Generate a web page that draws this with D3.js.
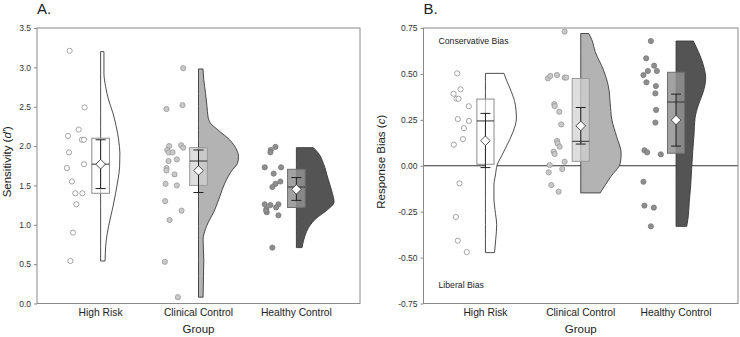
<!DOCTYPE html>
<html>
<head>
<meta charset="utf-8">
<script src="https://cdn.jsdelivr.net/npm/d3@7"></script>
<style>
  body { margin: 0; background: #fff; }
  svg { display: block; font-family: "Liberation Sans", Arial, sans-serif; }
</style>
</head>
<body>
<svg id="chart" width="740" height="337"></svg>
<script>
// ---- data ----
const groups = ["High Risk", "Clinical Control", "Healthy Control"];
const ticksA = [0, 0.5, 1, 1.5, 2, 2.5, 3, 3.5];
const ticksB = [-0.75, -0.5, -0.25, 0, 0.25, 0.5, 0.75];

// A. sensitivity (d') per participant, with horizontal jitter (-1..1)
const dA_hr = [3.21, 2.49, 2.21, 2.13, 2.08, 2.08, 1.92, 1.77, 1.72, 1.55, 1.40, 1.40, 1.26, 0.90, 0.54];
const jA_hr = [-0.70, 0.91, 0.27, -0.88, 0.62, 0.84, -0.77, 0.84, -0.99, -0.45, -0.09, 0.67, 0.02, -0.34, -0.62];
const dA_cc = [2.99, 2.47, 2.52, 2.01, 1.98, 2.00, 1.95, 1.92, 1.92, 1.83, 1.81, 1.72, 1.69, 1.64, 1.52, 1.50, 1.30, 1.18, 1.06, 0.53, 0.08];
const jA_cc = [0.99, -0.81, 0.91, 0.77, 0.99, -0.52, -0.73, -0.56, -0.16, 0.30, -0.59, -0.81, -0.81, 0.05, -0.91, 0.30, -0.95, 0.81, -0.48, -0.99, 0.41];
const dA_hc = [1.99, 1.95, 1.92, 1.73, 1.73, 1.65, 1.55, 1.52, 1.48, 1.26, 1.25, 1.26, 1.22, 1.20, 1.16, 1.18, 1.12, 0.71];
const jA_hc = [0.38, -0.13, -0.16, -0.77, 0.99, 0.19, 0.91, 0.38, 0.05, -0.77, -0.16, 0.70, 0.45, -0.59, -0.56, -0.62, 0.70, 0.05];

// B. response bias (c)
const cB_hr = [0.503, 0.416, 0.392, 0.365, 0.365, 0.324, 0.254, 0.244, 0.205, 0.145, 0.115, -0.096, -0.279, -0.408, -0.47];
const jB_hr = [-0.48, -0.12, -0.89, -0.56, -0.34, 0.79, -0.42, 0.81, 0.26, 0.15, -0.86, -0.23, -0.64, -0.42, 0.57];
const cB_cc = [0.73, 0.476, 0.489, 0.494, 0.48, 0.48, 0.336, 0.325, 0.294, 0.225, 0.135, 0.122, 0.104, 0.077, 0.064, 0.022, 0.004, -0.018, -0.036, -0.105, -0.141];
const jB_cc = [0.85, -1.0, -0.73, 0.01, 0.85, 1.03, -0.29, -0.25, 0.26, 0.48, 0.01, 0.08, 0.30, -0.36, -0.25, 0.85, -0.80, 0.59, -0.91, -0.62, 0.19];
const cB_hc = [0.679, 0.585, 0.545, 0.516, 0.516, 0.494, 0.454, 0.434, 0.394, 0.304, 0.235, 0.084, 0.073, 0.062, -0.087, -0.217, -0.228, -0.33];
const jB_hc = [-0.15, -0.67, 0.21, -0.48, 0.51, -0.97, -0.64, 0.40, 0.35, 0.43, 0.35, -0.86, -0.56, 0.95, -0.97, -0.86, 0.18, -0.15];

// box + mean/CI summaries  [High Risk, Clinical, Healthy]
const q1A = [1.40, 1.50, 1.22], medA = [1.77, 1.81, 1.48], q3A = [2.10, 1.98, 1.705];
const meanA = [1.77, 1.69, 1.45], ciLoA = [1.46, 1.41, 1.31], ciHiA = [2.08, 1.95, 1.60];
const q1B = [0.008, 0.024, 0.068], medB = [0.244, 0.133, 0.347], q3B = [0.363, 0.475, 0.509];
const meanB = [0.136, 0.217, 0.249], ciLoB = [-0.01, 0.118, 0.107], ciHiB = [0.285, 0.317, 0.39];

// half-violin density profiles: [value, density]
const vA_hr = [[3.20,.034],[2.925,.034],[2.755,.051],[2.586,.082],[2.417,.126],[2.247,.160],[2.078,.184],[1.908,.197],[1.738,.194],[1.569,.177],[1.40,.153],[1.23,.126],[1.06,.095],[0.892,.068],[0.722,.051],[0.54,.046]];
const vA_cc = [[2.98,.046],[2.84,.054],[2.67,.072],[2.50,.087],[2.37,.098],[2.29,.123],[2.20,.204],[2.08,.317],[1.95,.391],[1.865,.409],[1.78,.398],[1.70,.347],[1.53,.269],[1.36,.218],[1.19,.166],[0.98,.082],[0.81,.047],[0.55,.054],[0.34,.051],[0.08,.047]];
const vA_hc = [[1.98,.174],[1.91,.225],[1.78,.276],[1.57,.327],[1.40,.368],[1.29,.385],[1.19,.317],[1.08,.201],[0.98,.133],[0.85,.085],[0.71,.058]];
const vB_hr = [[0.503,.194],[0.458,.227],[0.403,.272],[0.331,.314],[0.258,.325],[0.185,.290],[0.113,.227],[0.059,.175],[0.004,.123],[-0.05,.105],[-0.105,.089],[-0.177,.089],[-0.26,.105],[-0.32,.118],[-0.40,.108],[-0.473,.095]];
const vB_cc = [[0.72,.084],[0.685,.117],[0.621,.152],[0.521,.239],[0.43,.291],[0.34,.309],[0.249,.327],[0.158,.377],[0.068,.424],[0.013,.414],[-0.06,.314],[-0.148,.204]];
const vB_hc = [[0.679,.181],[0.621,.234],[0.549,.286],[0.476,.311],[0.403,.286],[0.331,.234],[0.258,.199],[0.167,.188],[0.077,.175],[-0.014,.164],[-0.105,.154],[-0.196,.139],[-0.286,.126],[-0.33,.112]];

// styling per group
const violinFill = ["#ffffff", "#b3b3b3", "#545454"];
const boxFill = ["#ffffff", "#d1d1d1", "#929292"];
const boxOpacity = [0.6, 0.72, 0.85];
const boxStroke = ["#8c8c8c", "#9a9a9a", "#6e6e6e"];
const ptFill = ["#ffffff", "#c9c9c9", "#8e8e8e"];
const ptStroke = ["#8f8f8f", "#999999", "#787878"];

const svg = d3.select("#chart");

function drawPanel(p) {
    let g = svg.append("g");

    let x = d3.scalePoint().domain(groups).range([p.left, p.right]).padding(0.65);
    let step = x.step();
    let y = d3.scaleLinear().domain(p.domain).range([p.bottom, p.top]);

    // y axis
    let yAxis = d3.axisLeft(y).tickValues(p.ticks).tickSize(3).tickPadding(3).tickFormat(p.fmt);
    let ax = g.append("g").attr("transform", `translate(${p.left},0)`).call(yAxis);
    ax.select(".domain").remove();
    ax.selectAll(".tick line").attr("stroke", "#8a8a8a");
    ax.selectAll(".tick text").attr("fill", "#333").style("font-size", "8.5px")
        .style("font-family", "'Liberation Sans', Arial, sans-serif");

    // reference line at zero (under the clouds)
    if (p.zeroLine) {
        g.append("line")
            .attr("x1", p.left).attr("x2", p.right)
            .attr("y1", y(0)).attr("y2", y(0))
            .attr("stroke", "#333").attr("stroke-width", 1);
    }

    groups.forEach((grp, i) => {
        let cx = x(grp);

        // half violin to the right of centre
        let area = d3.area()
            .y(d => y(d[0]))
            .x0(cx)
            .x1(d => cx + d[1] * step)
            .curve(d3.curveMonotoneY);
        g.append("path")
            .datum(p.violins[i])
            .attr("d", area)
            .attr("fill", violinFill[i])
            .attr("stroke", "#3a3a3a")
            .attr("stroke-width", 0.9);

        // raw points (rain)
        let pts = p.values[i].map((v, k) => ({ v: v, j: p.jitter[i][k] }));
        g.selectAll(null)
            .data(pts)
            .enter()
            .append("circle")
            .attr("cx", d => cx - 0.25 * step + d.j * 0.095 * step)
            .attr("cy", d => y(d.v))
            .attr("r", 2.6)
            .attr("fill", ptFill[i])
            .attr("stroke", ptStroke[i])
            .attr("stroke-width", 0.8);

        // box
        let bw = 0.09 * step;
        g.append("rect")
            .attr("x", cx - bw).attr("width", bw * 2)
            .attr("y", y(p.q3[i])).attr("height", y(p.q1[i]) - y(p.q3[i]))
            .attr("fill", boxFill[i]).attr("fill-opacity", boxOpacity[i])
            .attr("stroke", boxStroke[i]).attr("stroke-width", 1);
        g.append("line")
            .attr("x1", cx - bw).attr("x2", cx + bw)
            .attr("y1", y(p.med[i])).attr("y2", y(p.med[i]))
            .attr("stroke", "#333").attr("stroke-width", 1);

        // mean with CI
        let cw = 0.052 * step;
        g.append("line")
            .attr("x1", cx).attr("x2", cx)
            .attr("y1", y(p.ciLo[i])).attr("y2", y(p.ciHi[i]))
            .attr("stroke", "#222").attr("stroke-width", 1);
        [p.ciLo[i], p.ciHi[i]].forEach(v => {
            g.append("line")
                .attr("x1", cx - cw).attr("x2", cx + cw)
                .attr("y1", y(v)).attr("y2", y(v))
                .attr("stroke", "#222").attr("stroke-width", 1);
        });
        g.append("path")
            .attr("d", d3.symbol(d3.symbolSquare, 46)())
            .attr("transform", `translate(${cx},${y(p.mean[i])}) rotate(45)`)
            .attr("fill", "#fff").attr("stroke", "#333").attr("stroke-width", 0.8);

        // category label
        g.append("text")
            .attr("x", cx).attr("y", 316)
            .attr("text-anchor", "middle")
            .style("font-size", "10.3px").attr("fill", "#222")
            .text(grp);
    });

    // frame
    g.append("rect")
        .attr("x", p.left).attr("y", p.top)
        .attr("width", p.right - p.left).attr("height", p.bottom - p.top)
        .attr("fill", "none").attr("stroke", "#8a8a8a").attr("stroke-width", 1);

    // titles
    g.append("text")
        .attr("x", (p.left + p.right) / 2).attr("y", 333)
        .attr("text-anchor", "middle").style("font-size", "11.5px").attr("fill", "#222")
        .text("Group");

    let yt = g.append("text")
        .attr("transform", `translate(${p.yTitleX},${(p.top + p.bottom) / 2 - 4}) rotate(-90)`)
        .attr("text-anchor", "middle").style("font-size", "11.5px").attr("fill", "#222");
    p.yTitle.forEach(part => {
        yt.append("tspan").style("font-style", part[1] ? "italic" : "normal").text(part[0]);
    });

    g.append("text")
        .attr("x", p.left).attr("y", 14)
        .style("font-size", "15px").attr("fill", "#222")
        .text(p.letter);

    (p.notes || []).forEach(n => {
        g.append("text")
            .attr("x", p.left + 15).attr("y", y(n[1]))
            .style("font-size", "8.7px").attr("fill", "#222")
            .text(n[0]);
    });
}

drawPanel({
    left: 37, right: 360, top: 28, bottom: 303.5,
    domain: [0, 3.5], ticks: ticksA, fmt: d3.format(".1f"),
    values: [dA_hr, dA_cc, dA_hc], jitter: [jA_hr, jA_cc, jA_hc],
    violins: [vA_hr, vA_cc, vA_hc],
    q1: q1A, med: medA, q3: q3A, mean: meanA, ciLo: ciLoA, ciHi: ciHiA,
    yTitle: [["Sensitivity (", false], ["d′", true], [")", false]], yTitleX: 11,
    letter: "A."
});

drawPanel({
    left: 423.5, right: 738, top: 28, bottom: 303.5,
    domain: [-0.75, 0.75], ticks: ticksB, fmt: d => d.toFixed(2),
    values: [cB_hr, cB_cc, cB_hc], jitter: [jB_hr, jB_cc, jB_hc],
    violins: [vB_hr, vB_cc, vB_hc],
    q1: q1B, med: medB, q3: q3B, mean: meanB, ciLo: ciLoB, ciHi: ciHiB,
    yTitle: [["Response Bias (", false], ["c", true], [")", false]], yTitleX: 385,
    letter: "B.", zeroLine: true,
    notes: [["Conservative Bias", 0.665], ["Liberal Bias", -0.665]]
});
</script>
</body>
</html>
